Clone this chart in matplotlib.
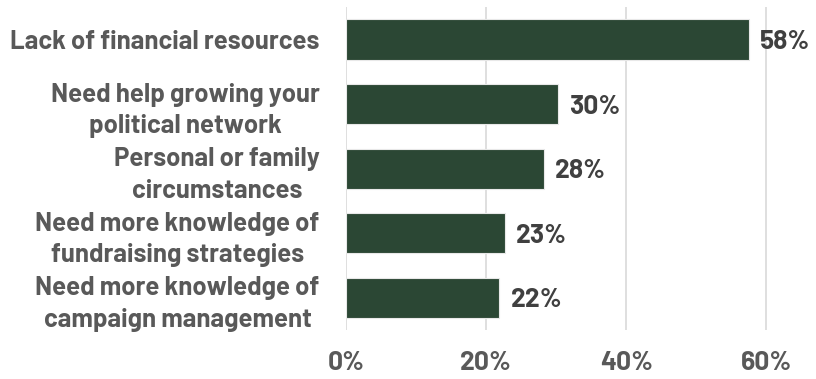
import matplotlib.pyplot as plt

categories = [
    "Lack of financial resources",
    "Need help growing your\npolitical network",
    "Personal or family\ncircumstances",
    "Need more knowledge of\nfundraising strategies",
    "Need more knowledge of\ncampaign management",
]
values = [57.5, 30.3, 28.2, 22.7, 21.9]
xticks = [0, 20, 40, 60]

plt.rcParams["font.family"] = ["Barlow", "DejaVu Sans"]

fig = plt.figure(figsize=(8.16, 3.79), dpi=100)
ax = fig.add_axes([0.424, 0.129, 0.558, 0.852])

ypos = list(range(len(categories)))
ax.barh(ypos, values, height=0.62, color="#2b4734", edgecolor="#e8e8e8", linewidth=0.8, zorder=3)
for y, v in zip(ypos, values):
    ax.text(v + 1.6, y + 0.04, f"{round(v)}%", va="center", ha="left", fontsize=19,
            fontweight="bold", color="#404040")

ax.set_ylim(len(categories) - 0.5, -0.5)
ax.set_xlim(0, 65)
ax.set_yticks(ypos)
ax.set_yticklabels(categories, fontsize=18.5, fontweight="bold", color="#595959", linespacing=1.4)
for t in ax.get_yticklabels():
    t.set_multialignment("center")
ax.tick_params(axis="y", length=0, pad=19)
ax.set_xticks(xticks)
ax.set_xticklabels([f"{t}%" for t in xticks], fontsize=19, fontweight="bold", color="#595959")
ax.tick_params(axis="x", length=0, pad=15)
ax.grid(axis="x", color="#d9d9d9", linewidth=1.2, zorder=0)
for s in ax.spines.values():
    s.set_visible(False)

fig.savefig("out.png", dpi=100)
